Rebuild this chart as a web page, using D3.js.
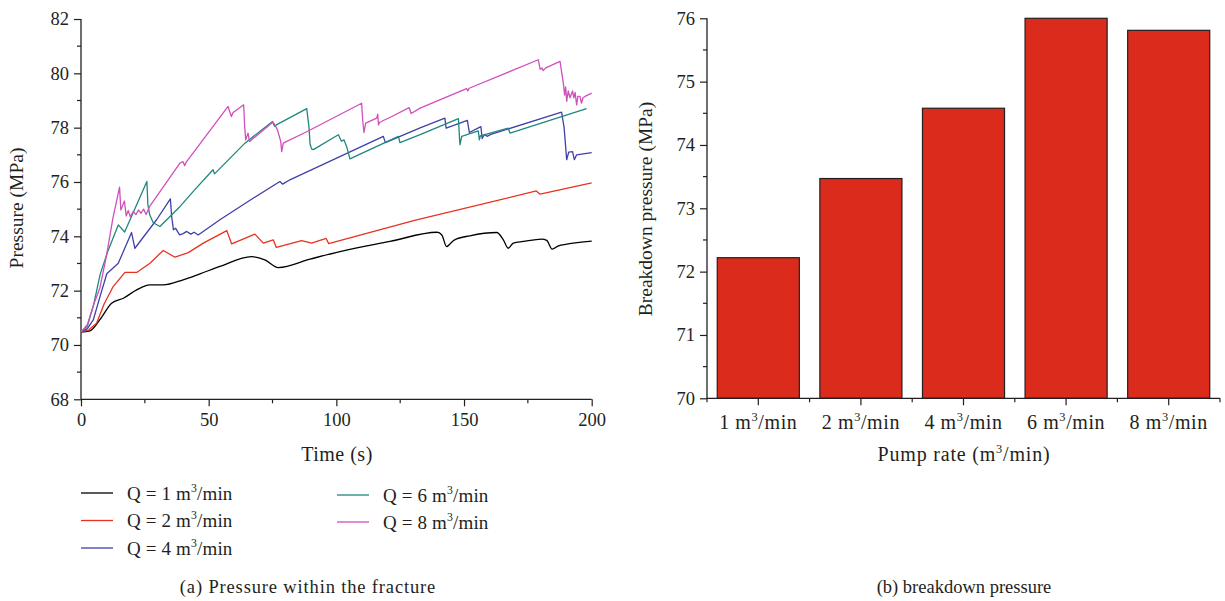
<!DOCTYPE html>
<html>
<head>
<meta charset="utf-8">
<script src="https://cdn.jsdelivr.net/npm/d3@7"></script>
<style>
  html, body { margin: 0; padding: 0; background: #fff; }
  svg text { font-family: "Liberation Serif", "Times New Roman", serif; fill: #231f20; }
</style>
</head>
<body>
<svg id="chart" width="1225" height="601"></svg>
<script>
// ---------- Data: panel (a) pressure within the fracture [time s, pressure MPa] ----------
const seriesNames = ["Q = 1", "Q = 2", "Q = 4", "Q = 6", "Q = 8"];
const seriesColors = ["#000000", "#e8321f", "#3f40a8", "#1f877d", "#d050bb"];

const q1 = [[0,70.47],[3.5,70.52],[7.4,70.93],[12,71.54],[16.6,71.72],[21.8,72.03],[27,72.21],[32.2,72.21],[40,72.4],[46.6,72.62],[54.4,72.89],[66.8,73.25],[72,73.13],[77.3,72.85],[89.7,73.16],[101.4,73.44],[121,73.81],[139.5,74.15],[141.3,74.05],[143.2,73.62],[144.5,73.72],[146.3,73.87],[152.3,74.02],[162.8,74.14],[165.4,73.87],[167.3,73.56],[169.3,73.75],[173.2,73.81],[180.4,73.9],[182.4,73.85],[184.5,73.53],[187,73.65],[190.2,73.71],[200,73.82]];

const q2 = [[0,70.47],[3,70.55],[6.1,70.8],[9,71.5],[12.6,72.15],[17.2,72.67],[21.8,72.67],[27,73.01],[32.2,73.48],[36.8,73.23],[42,73.4],[47.9,73.75],[57.1,74.21],[59,73.72],[68.1,74.08],[71.4,73.75],[75.3,73.87],[76.5,73.59],[86.4,73.84],[90.3,73.75],[96,73.92],[97,73.73],[131,74.6],[164,75.34],[178.3,75.67],[179.8,75.55],[200,75.97]];

const q4 = [[0,70.47],[2.5,70.6],[4.8,70.92],[7.5,71.8],[10.1,72.62],[14.6,73.01],[19.8,74.14],[21.1,73.56],[29.6,74.61],[35,75.38],[35.5,74.73],[36.2,74.24],[37,74.3],[38.6,74.05],[40,74.1],[41.4,74.18],[43,74.08],[44.3,74.15],[45.9,74.05],[54.4,74.61],[67.4,75.4],[77.9,76.02],[79,75.92],[81.8,76.08],[118.4,77.68],[119.2,77.45],[132.8,77.99],[142.5,78.35],[143,77.98],[151.3,78.27],[152.1,77.82],[156.6,78.04],[157.1,77.6],[158,77.75],[159,77.68],[160.5,77.75],[188.2,78.57],[189.2,78.0],[190.2,76.82],[191,77.1],[192.5,77.12],[193.2,76.82],[194.1,77.0],[200,77.08]];

const q6 = [[0,70.47],[2.5,70.7],[5,71.5],[7.5,72.6],[10.7,73.5],[14.6,74.42],[17.1,74.16],[25.8,76.02],[26.2,75.16],[26.9,74.79],[28.3,74.5],[30.9,74.36],[38.8,75.1],[44.5,75.71],[51.7,76.45],[52.3,76.3],[64.2,77.43],[75,78.23],[75.8,78.05],[76.5,78.1],[88.4,78.7],[89.3,78.0],[89.7,77.4],[90.3,77.22],[91,77.19],[100.8,77.74],[102,77.5],[103,77.55],[104,77.31],[104.9,77.0],[105.3,76.85],[124.3,77.68],[124.9,77.45],[132.8,77.74],[147.8,78.33],[148.2,77.68],[148.4,77.37],[149.1,77.68],[155.6,77.88],[156,77.55],[156.4,77.7],[167.3,77.98],[168,77.8],[198,78.7]];

const q8 = [[0,70.47],[2.5,70.75],[5,71.5],[7.4,72.1],[10,73.3],[12.5,74.67],[15.1,75.81],[15.6,74.97],[17,75.3],[17.7,74.75],[18.5,74.95],[19.3,74.72],[20.5,74.92],[21.5,74.8],[22.5,74.97],[23.5,74.85],[24.5,75.0],[25.5,74.8],[26.4,75.0],[26.9,75.1],[38.8,76.7],[39.9,76.75],[40.6,76.6],[41,76.7],[57.6,78.78],[58.2,78.6],[58.9,78.41],[59.5,78.55],[63.7,78.84],[64.1,78.04],[64.5,77.55],[65.4,77.8],[66,77.49],[75.1,78.2],[76,78.1],[77,77.9],[78.2,77.5],[78.6,77.12],[79.2,77.43],[88.4,77.85],[109.9,78.9],[110.3,78.3],[110.8,77.82],[111.5,78.17],[115.8,78.35],[116.2,78.5],[116.5,78.1],[117,78.2],[121.7,78.41],[128.5,78.74],[129.3,78.52],[132.8,78.72],[151,79.44],[151.5,79.35],[152,79.45],[179.1,80.5],[179.8,80.15],[180.5,80.2],[181,80.1],[182,80.2],[187.6,80.44],[188.3,80.0],[188.9,79.64],[189.4,79.2],[189.8,79.5],[190.2,78.97],[190.8,79.35],[191.5,79.1],[192.5,79.35],[193,79.1],[193.5,79.3],[194.1,78.84],[194.6,79.15],[195.4,79.15],[196,78.9],[196.6,79.1],[197.4,79.15],[200,79.27]];

const seriesData = [q1, q2, q4, q6, q8];
const timeTicks = [0, 50, 100, 150, 200];
const pressureTicks = [68, 70, 72, 74, 76, 78, 80, 82];

// ---------- Data: panel (b) breakdown pressure ----------
const pumpRates = ["1", "2", "4", "6", "8"];
const breakdownPressure = [72.22, 73.47, 74.58, 76.0, 75.81];
const breakdownTicks = [70, 71, 72, 73, 74, 75, 76];

const svg = d3.select("#chart");

// helper: text with superscript 3  ("pre" + "3" + "post")
function supText(g, x, y, pre, post, opts) {
  const t = g.append("text").attr("x", x).attr("y", y)
    .attr("font-size", opts.size).attr("text-anchor", opts.anchor || "start");
  if (opts.ls) t.attr("letter-spacing", opts.ls);
  t.append("tspan").text(pre);
  t.append("tspan").attr("font-size", opts.size * 0.62).attr("dy", -opts.size * 0.42).text("3");
  t.append("tspan").attr("dy", opts.size * 0.42).text(post);
  return t;
}

function styleAxis(sel, fs) {
  sel.select(".domain").attr("stroke", "#231f20").attr("stroke-width", 1.3);
  sel.selectAll(".tick line").attr("stroke", "#231f20").attr("stroke-width", 1.2);
  sel.selectAll(".tick text").attr("font-size", fs).attr("fill", "#231f20")
    .style("font-family", '"Liberation Serif", "Times New Roman", serif');
}

// ================= Panel (a) =================
const xA = d3.scaleLinear().domain([0, 200]).range([81, 591.7]);
const yA = d3.scaleLinear().domain([68, 82]).range([399.3, 19]);
const gA = svg.append("g");

const yAminor = d3.range(69, 82, 2);
const xAminor = [25, 75, 125, 175];

const axisLeftA = d3.axisLeft(yA).tickValues(pressureTicks).tickSize(7).tickPadding(5).tickFormat(d3.format("d"));
const axisBottomA = d3.axisBottom(xA).tickValues(timeTicks).tickSize(7).tickPadding(7).tickFormat(d3.format("d"));

const gyA = gA.append("g").attr("transform", "translate(81,0)").call(axisLeftA);
styleAxis(gyA, 18.5);
gyA.selectAll(".domain").attr("d", `M0,${yA(82)}V${yA(68)}`);
gyA.selectAll(".minor").data(yAminor).enter().append("line")
  .attr("x1", -4).attr("x2", 0).attr("y1", d => yA(d)).attr("y2", d => yA(d))
  .attr("stroke", "#231f20").attr("stroke-width", 1.2);

const gxA = gA.append("g").attr("transform", `translate(0,${yA(68)})`).call(axisBottomA);
styleAxis(gxA, 18.5);
gxA.selectAll(".domain").attr("d", `M${xA(0)},0H${xA(200)}`);
gxA.selectAll(".minor").data(xAminor).enter().append("line")
  .attr("x1", d => xA(d)).attr("x2", d => xA(d)).attr("y1", 0).attr("y2", 4)
  .attr("stroke", "#231f20").attr("stroke-width", 1.2);

seriesData.forEach((data, i) => {
  const line = d3.line()
    .x(d => xA(d[0])).y(d => yA(d[1]))
    .curve(i === 0 ? d3.curveMonotoneX : d3.curveLinear);
  gA.append("path").datum(data)
    .attr("d", line)
    .attr("fill", "none")
    .attr("stroke", seriesColors[i])
    .attr("stroke-width", 1.3)
    .attr("stroke-linejoin", "round");
});

gA.append("text").attr("x", 337).attr("y", 461).attr("text-anchor", "middle")
  .attr("font-size", 20).attr("letter-spacing", 0.5).text("Time (s)");
gA.append("text").attr("transform", "translate(23,208) rotate(-90)").attr("text-anchor", "middle")
  .attr("font-size", 19.5).text("Pressure (MPa)");

const legendPos = [
  {lx: 81, ty: 493}, {lx: 81, ty: 520.5}, {lx: 81, ty: 548},
  {lx: 337, ty: 495}, {lx: 337, ty: 522}
];
seriesNames.forEach((name, i) => {
  const p = legendPos[i];
  gA.append("line").attr("x1", p.lx).attr("x2", p.lx + 32).attr("y1", p.ty).attr("y2", p.ty)
    .attr("stroke", seriesColors[i]).attr("stroke-width", 1.3);
  supText(gA, p.lx + 46, p.ty + 6.5, name + " m", "/min", {size: 19, ls: 0.15});
});

gA.append("text").attr("x", 308).attr("y", 593).attr("text-anchor", "middle")
  .attr("font-size", 18.5).attr("letter-spacing", 0.85).text("(a) Pressure within the fracture");

// ================= Panel (b) =================
const xB = d3.scaleBand().domain(pumpRates).range([707, 1220]).paddingInner(0.2).paddingOuter(0.1);
const yB = d3.scaleLinear().domain([70, 76]).range([398.3, 18.3]);
const gB = svg.append("g");

gB.selectAll("rect.bar").data(breakdownPressure).enter().append("rect")
  .attr("class", "bar")
  .attr("x", (d, i) => xB(pumpRates[i]))
  .attr("width", xB.bandwidth())
  .attr("y", d => yB(d))
  .attr("height", d => yB(70) - yB(d))
  .attr("fill", "#da2b1d")
  .attr("stroke", "#231f20")
  .attr("stroke-width", 1.2);

const axisLeftB = d3.axisLeft(yB).tickValues(breakdownTicks).tickSize(7).tickPadding(5).tickFormat(d3.format("d"));
const gyB = gB.append("g").attr("transform", "translate(707,0)").call(axisLeftB);
styleAxis(gyB, 18.5);
gyB.selectAll(".domain").attr("d", `M0,${yB(76)}V${yB(70)}`);
gyB.selectAll(".minor").data(d3.range(70.5, 76, 1)).enter().append("line")
  .attr("x1", -4).attr("x2", 0).attr("y1", d => yB(d)).attr("y2", d => yB(d))
  .attr("stroke", "#231f20").attr("stroke-width", 1.2);

const gxB = gB.append("g").attr("transform", `translate(0,${yB(70)})`)
  .call(d3.axisBottom(xB).tickSize(7).tickPadding(7).tickFormat(() => ""));
styleAxis(gxB, 18.5);
gxB.selectAll(".domain").attr("d", `M707,0H1220`);
const boundaries = [707].concat(pumpRates.slice(1).map(r => xB(r) - xB.step() * xB.paddingInner() / 2)).concat([1220]);
gxB.selectAll(".minor").data(boundaries).enter().append("line")
  .attr("x1", d => d).attr("x2", d => d).attr("y1", 0).attr("y2", 4)
  .attr("stroke", "#231f20").attr("stroke-width", 1.2);
pumpRates.forEach(r => {
  supText(gxB, xB(r) + xB.bandwidth() / 2, 31, r + " m", "/min", {size: 20, anchor: "middle", ls: 0.6});
});

gB.append("text").attr("transform", "translate(652,209) rotate(-90)").attr("text-anchor", "middle")
  .attr("font-size", 19.5).text("Breakdown pressure (MPa)");
supText(gB, 964, 461, "Pump rate (m", "/min)", {size: 20, anchor: "middle", ls: 0.8});

gB.append("text").attr("x", 964).attr("y", 593).attr("text-anchor", "middle")
  .attr("font-size", 18.5).text("(b) breakdown pressure");
</script>
</body>
</html>
